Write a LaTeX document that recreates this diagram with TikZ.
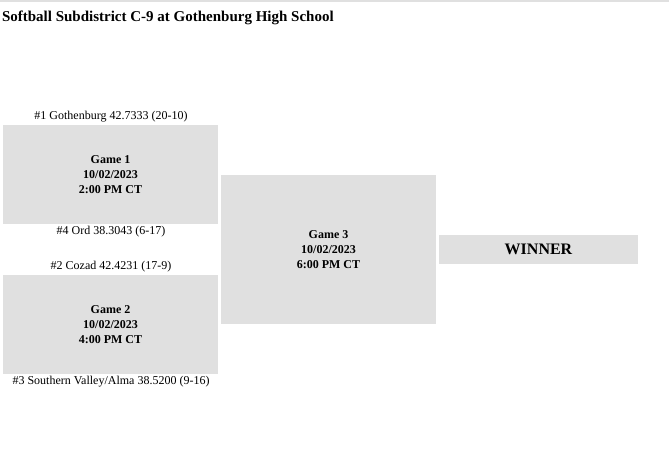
\documentclass[tikz,border=0pt]{standalone}
\usepackage{fontspec}
\setmainfont{Liberation Serif}
\usetikzlibrary{positioning}

\begin{document}
\begin{tikzpicture}[x=1pt, y=-1pt,
    inner sep=0pt, outer sep=0pt,
    game/.style={fill=black!12, minimum width=215pt, align=center,
        font=\fontsize{12}{15}\selectfont\bfseries},
    team/.style={font=\fontsize{12}{14}\selectfont},
]
    % Page
    \useasboundingbox (0,0) rectangle (669,451);
    \fill[black!12] (0,0) rectangle (669,1.5);

    \node[anchor=west, font=\fontsize{15}{18}\selectfont\bfseries] (title) at (2,18)
        {Softball Subdistrict C-9 at Gothenburg High School};

    % First round
    \node[game, minimum height=99pt] (g1) at (110.5,174.5) {Game 1\\10/02/2023\\2:00 PM CT};
    \node[game, minimum height=99pt] (g2) at (110.5,324.5) {Game 2\\10/02/2023\\4:00 PM CT};

    \node[team] (t1) at (111,117) {\#1 Gothenburg 42.7333 (20-10)};
    \node[team] (t4) at (111,232) {\#4 Ord 38.3043 (6-17)};
    \node[team] (t2) at (111,267) {\#2 Cozad 42.4231 (17-9)};
    \node[team] (t3) at (111,382) {\#3 Southern Valley/Alma 38.5200 (9-16)};

    % Final
    \node[game, minimum height=149pt] (g3) at (328.5,249.5) {Game 3\\10/02/2023\\6:00 PM CT};
    \node[game, minimum width=199pt, minimum height=29pt,
        font=\fontsize{16}{18}\selectfont\bfseries] (win) at (538.5,249.5) {WINNER};
\end{tikzpicture}
\end{document}
